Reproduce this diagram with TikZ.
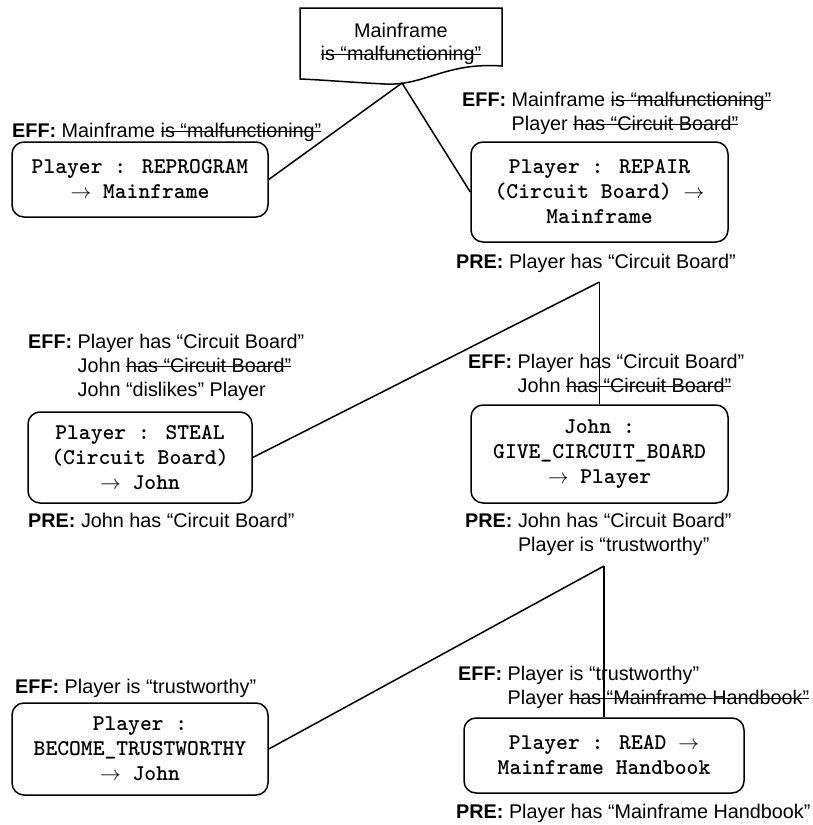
\documentclass[tikz,border=0pt]{standalone}
\usepackage{fontspec}
\setmainfont{Liberation Sans}
\newsavebox{\strkbox}
\newcommand{\strk}[1]{\sbox{\strkbox}{#1}\rlap{\rule[0.27em]{\wd\strkbox}{1.1pt}}\usebox{\strkbox}}
\tikzset{
  abox/.style={draw, line width=1.5pt, rounded corners=12pt, align=center,
    font=\fontsize{22.5}{25}\selectfont\ttfamily\bfseries, inner sep=0pt},
  lbl/.style={anchor=base west, inner sep=0pt, align=left,
    font=\fontsize{19.8}{24}\selectfont},
  conn/.style={line width=1.5pt},
}
\newcommand{\effx}{\textbf{EFF:}}
\newcommand{\prex}{\textbf{PRE:}}
\begin{document}
\begin{tikzpicture}[x=1pt,y=-1pt]
\useasboundingbox (0,0) rectangle (813,825);
% document shape
\draw[line width=1.5pt] (300,8) -- (502,8) -- (502,66)
  .. controls (445,62) and (425,86) .. (385,84)
  .. controls (345,82) and (325,80) .. (300,79) -- cycle;
\node[anchor=base, align=center, inner sep=0pt, font=\fontsize{19.8}{23}\selectfont] (doc) at (401,60)
  {Mainframe\\\strk{is “malfunctioning”}};
\coordinate (docb) at (402,83);
% boxes
\node[abox, minimum width=256pt, minimum height=75pt] (reprog) at (140,179.5)
  {Player : REPROGRAM\\$\rightarrow$ Mainframe};
\node[abox, minimum width=257pt, minimum height=100pt] (repair) at (599.5,192)
  {Player : REPAIR\\(Circuit Board) $\rightarrow$\\Mainframe};
\node[abox, minimum width=224pt, minimum height=91pt] (steal) at (140,457.5)
  {Player : STEAL\\(Circuit Board)\\$\rightarrow$ John};
\node[abox, minimum width=257pt, minimum height=98pt] (give) at (599.5,454)
  {John :\\GIVE\_CIRCUIT\_BOARD\\$\rightarrow$ Player};
\node[abox, minimum width=256pt, minimum height=92pt] (become) at (140,749)
  {Player :\\BECOME\_TRUSTWORTHY\\$\rightarrow$ John};
\node[abox, minimum width=280pt, minimum height=75pt] (read) at (604,755.5)
  {Player : READ $\rightarrow$\\Mainframe Handbook};
% labels (base = last line's baseline)
\node[lbl] (eff1) at (12,137) {\effx{} Mainframe \strk{is “malfunctioning”}};
\node[lbl] (eff2) at (462,130) {\effx{} Mainframe \strk{is “malfunctioning”}\\
  \hphantom{\effx{} }Player \strk{has “Circuit Board”}};
\node[lbl] (pre2) at (456,268) {\prex{} Player has “Circuit Board”};
\node[lbl] (eff3) at (28,396) {\effx{} Player has “Circuit Board”\\
  \hphantom{\effx{} }John \strk{has “Circuit Board”}\\
  \hphantom{\effx{} }John “dislikes” Player};
\node[lbl] (pre3) at (28,527) {\prex{} John has “Circuit Board”};
\node[lbl] (eff4) at (468,392) {\effx{} Player has “Circuit Board”\\
  \hphantom{\effx{} }John \strk{has “Circuit Board”}};
\node[lbl] (pre4) at (465,551) {\prex{} John has “Circuit Board”\\
  \hphantom{\prex{} }Player is “trustworthy”};
\node[lbl] (eff5) at (15,693) {\effx{} Player is “trustworthy”};
\node[lbl] (eff6) at (458,704) {\effx{} Player is “trustworthy”\\
  \hphantom{\effx{} }Player \strk{has “Mainframe Handbook”}};
\node[lbl] (pre6) at (456,818) {\prex{} Player has “Mainframe Handbook”};
% connectors
\coordinate (ap1) at (599.5,282);
\coordinate (ap2) at (604,566);
\draw[conn] (docb) -- (reprog.east);
\draw[conn] (docb) -- (repair.west);
\draw[conn] (ap1) -- (steal.east);
\draw[conn] (ap1) -- (give.north);
\draw[conn] (ap2) -- (become.east);
\draw[conn] (ap2) -- (read.north);
\end{tikzpicture}
\end{document}
